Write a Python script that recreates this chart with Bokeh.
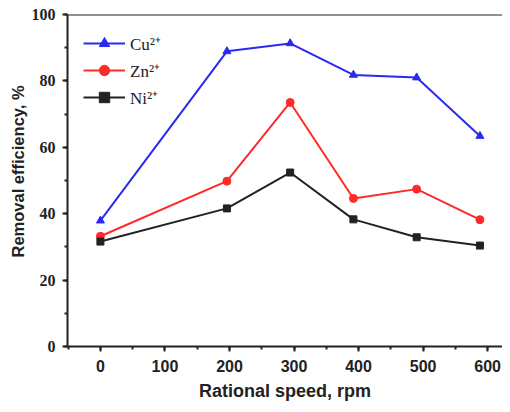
from bokeh.plotting import figure
from bokeh.models import Range1d, Span, SingleIntervalTicker, Legend, LegendItem, Title
from bokeh.embed import file_html
from bokeh.resources import INLINE

speed = [0, 196, 294, 392, 490, 588]
cu = [37.9, 88.9, 91.3, 81.8, 81.0, 63.4]
zn = [33.2, 49.8, 73.5, 44.6, 47.4, 38.2]
ni = [31.6, 41.6, 52.4, 38.3, 32.9, 30.4]
series_names = ["Cu²⁺", "Zn²⁺", "Ni²⁺"]
x_title = "Rational speed, rpm"
y_title = "Removal efficiency, %"

p = figure(width=502, height=404, output_backend="svg", toolbar_location=None,
           x_range=Range1d(-51, 623), y_range=Range1d(0, 100),
           min_border_left=67, min_border_right=0, min_border_top=14, min_border_bottom=58)
p.outline_line_color = None
p.xgrid.visible = False
p.ygrid.visible = False
p.background_fill_color = "white"

p.add_layout(Span(location=100, dimension="width", line_color="#222222", line_width=2))

colors = ["#2a2af0", "#ff2a2a", "#222222"]
markers = ["triangle", "circle", "square"]
sizes = [8, 8, 7]
items = []
for name, vals, c, m, s in zip(series_names, [cu, zn, ni], colors, markers, sizes):
    l = p.line(speed, vals, line_color=c, line_width=2)
    sc = p.scatter(speed, vals, marker=m, size=s, fill_color=c, line_color=c)
    items.append(LegendItem(label=name, renderers=[l, sc]))

legend = Legend(items=items, location="top_left", margin=16, padding=0,
                border_line_color=None, background_fill_alpha=0,
                glyph_width=42, glyph_height=26, label_height=26, spacing=1,
                label_standoff=5, label_text_font="Liberation Serif",
                label_text_font_size="17px", label_text_color="#222222")
p.add_layout(legend)

p.xaxis.ticker = SingleIntervalTicker(interval=100, num_minor_ticks=2)
p.yaxis.ticker = SingleIntervalTicker(interval=20, num_minor_ticks=2)
for ax in (p.xaxis, p.yaxis):
    ax.axis_line_width = 2
    ax.axis_line_color = "#222222"
    ax.major_tick_line_width = 2
    ax.minor_tick_line_width = 2
    ax.major_tick_line_color = "#222222"
    ax.minor_tick_line_color = "#222222"
    ax.major_tick_out = 5
    ax.major_tick_in = 0
    ax.minor_tick_out = 3
    ax.minor_tick_in = 0
    ax.major_label_text_color = "#222222"
    ax.axis_label_text_color = "#222222"
    ax.axis_label_text_font = "Liberation Sans"
    ax.axis_label_text_font_style = "bold"
    ax.axis_label_text_font_size = "18px"
    ax.major_label_text_font_style = "bold"
    ax.major_label_text_font_size = "16px"

p.xaxis.axis_label = x_title
p.xaxis.major_label_text_font = "Liberation Sans"
p.yaxis.major_label_text_font = "Liberation Serif"
p.xaxis.major_label_standoff = 8
p.xaxis.axis_label_standoff = 6
p.yaxis.major_label_standoff = 7

ytitle = Title(text=y_title, align="left", offset=89, standoff=4,
               text_font="Liberation Sans", text_font_style="bold",
               text_font_size="16.5px", text_color="#222222")
p.add_layout(ytitle, "left")

open("out.html", "w").write(file_html(p, INLINE))
